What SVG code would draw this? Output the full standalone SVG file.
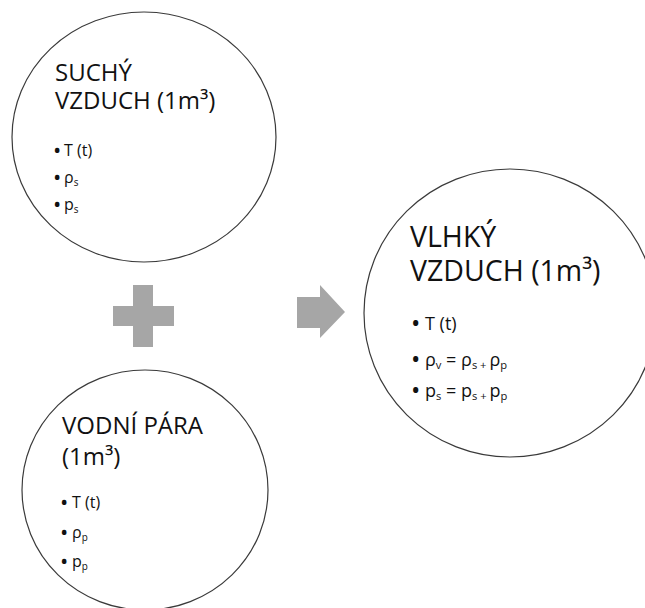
<svg xmlns="http://www.w3.org/2000/svg" width="645" height="608" viewBox="0 0 645 608">
  <style>
    .bubble { fill: #ffffff; stroke: #3a3a3a; stroke-width: 1.2; }
    .title { font-family: "Open Sans", "Noto Sans", sans-serif; fill: #111111; }
    .item { font-family: "Open Sans", "Noto Sans", sans-serif; fill: #111111; }
    .dot { font-size: 1.38em; }
    .sub { font-size: 0.62em; }
    .sym { fill: #a6a6a6; }
  </style>
  <rect width="645" height="608" fill="#ffffff"/>

  <!-- dry air -->
  <g id="node-dry-air">
    <ellipse class="bubble" cx="144" cy="137" rx="132" ry="125"/>
    <text class="title" font-size="24" x="55" y="81">SUCHÝ<tspan x="55" dy="28">VZDUCH (1m³)</tspan></text>
    <g class="item" font-size="16">
      <text x="53" y="158"><tspan class="dot">•</tspan><tspan x="64" dy="-2">T (t)</tspan></text>
      <text x="53" y="185"><tspan class="dot">•</tspan><tspan x="64" dy="-2">ρ</tspan><tspan class="sub" dy="3">s</tspan></text>
      <text x="53" y="212"><tspan class="dot">•</tspan><tspan x="64" dy="-2">p</tspan><tspan class="sub" dy="3">s</tspan></text>
    </g>
  </g>

  <!-- water vapour -->
  <g id="node-water-vapour">
    <ellipse class="bubble" cx="145" cy="490" rx="123" ry="120"/>
    <text class="title" font-size="24" x="62" y="434">VODNÍ PÁRA<tspan x="62" dy="31">(1m³)</tspan></text>
    <g class="item" font-size="16">
      <text x="60" y="510"><tspan class="dot">•</tspan><tspan x="72" dy="-2">T (t)</tspan></text>
      <text x="60" y="540"><tspan class="dot">•</tspan><tspan x="72" dy="-2">ρ</tspan><tspan class="sub" dy="3">p</tspan></text>
      <text x="60" y="569"><tspan class="dot">•</tspan><tspan x="72" dy="-2">p</tspan><tspan class="sub" dy="3">p</tspan></text>
    </g>
  </g>

  <!-- moist air -->
  <g id="node-moist-air">
    <ellipse class="bubble" cx="510" cy="313" rx="146" ry="144"/>
    <text class="title" font-size="28.5" x="410" y="247">VLHKÝ<tspan x="410" dy="34">VZDUCH (1m³)</tspan></text>
    <g class="item" font-size="18">
      <text x="411" y="332"><tspan class="dot">•</tspan><tspan x="425" dy="-2">T (t)</tspan></text>
      <text x="411" y="368"><tspan class="dot">•</tspan><tspan x="425" dy="-2">ρ</tspan><tspan class="sub" dy="3">v</tspan><tspan dy="-3"> = ρ</tspan><tspan class="sub" dy="3">s + </tspan><tspan dy="-3">ρ</tspan><tspan class="sub" dy="3">p</tspan></text>
      <text x="411" y="399"><tspan class="dot">•</tspan><tspan x="425" dy="-2">p</tspan><tspan class="sub" dy="3">s</tspan><tspan dy="-3"> = p</tspan><tspan class="sub" dy="3">s + </tspan><tspan dy="-3">p</tspan><tspan class="sub" dy="3">p</tspan></text>
    </g>
  </g>

  <!-- plus sign and result arrow -->
  <g id="connectors">
    <path class="sym" d="M133 285 H153 V306 H174 V326 H153 V347 H133 V326 H113 V306 H133 Z"/>
    <path class="sym" d="M297 297 H320 V285 L345 312 L320 338 V328 H297 Z"/>
  </g>
</svg>
